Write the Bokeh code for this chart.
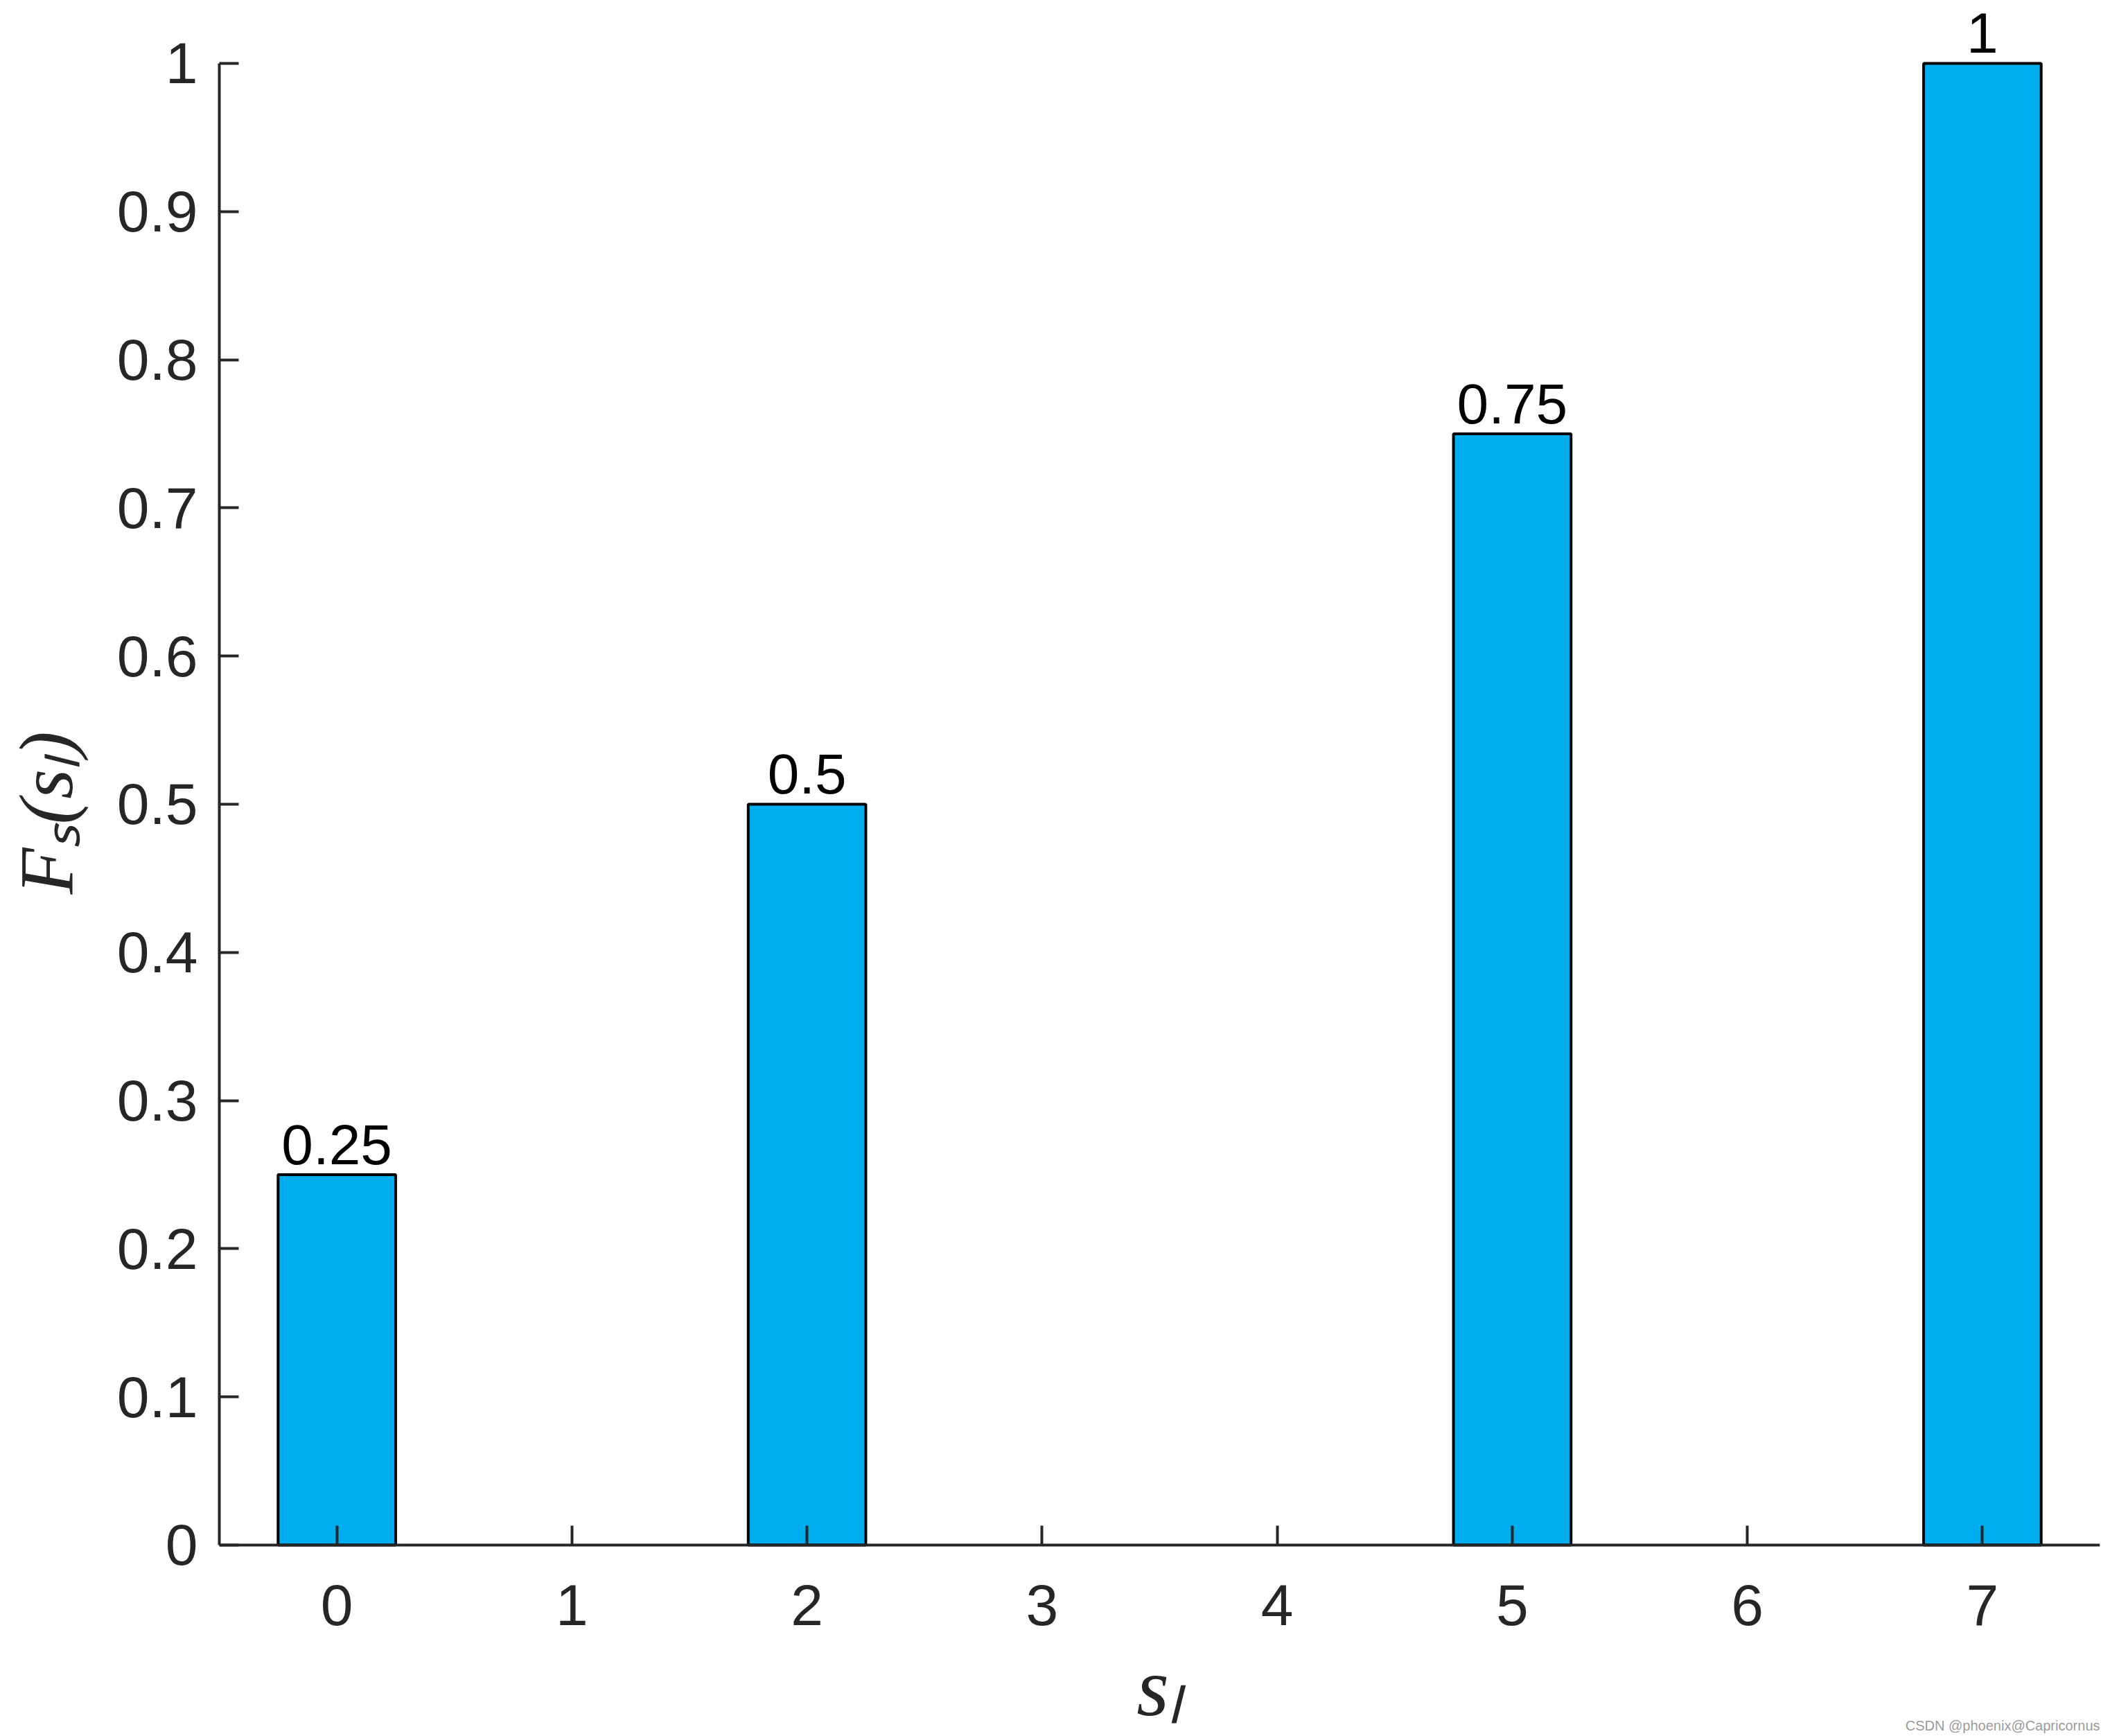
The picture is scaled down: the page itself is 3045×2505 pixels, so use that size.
from bokeh.plotting import figure
from bokeh.models import ColumnDataSource, LabelSet, Label, FixedTicker, Range1d
from bokeh.core.properties import value
from bokeh.embed import file_html
from bokeh.resources import INLINE

# ---- data ----
levels = [0, 2, 5, 7]
values = [0.25, 0.5, 0.75, 1.0]
value_labels = ["0.25", "0.5", "0.75", "1"]
x_ticks = [0, 1, 2, 3, 4, 5, 6, 7]
y_ticks = [0.0, 0.1, 0.2, 0.3, 0.4, 0.5, 0.6, 0.7, 0.8, 0.9, 1.0]
y_tick_labels = ["0", "0.1", "0.2", "0.3", "0.4", "0.5", "0.6", "0.7", "0.8", "0.9", "1"]
x_label = "s\u2097"
y_label = "F\u209b(s\u2097)"
watermark = "CSDN @phoenix@Capricornus"

src = ColumnDataSource(dict(x=levels, top=values, label=value_labels))

# frame covers the area below the x axis too, so nothing is clipped
p = figure(
    frame_width=2714, frame_height=2500,
    x_range=Range1d(-0.5, 7.5), y_range=Range1d(-0.12910, 1.04022),
    output_backend="svg", toolbar_location=None,
    min_border_left=316, min_border_right=15, min_border_top=5, min_border_bottom=0,
    background_fill_color="white", border_fill_color="white",
)
p.outline_line_color = None
p.xgrid.grid_line_color = None
p.ygrid.grid_line_color = None

p.vbar(x="x", top="top", bottom=0, width=0.5, source=src,
       fill_color="#00AEEF", line_color="black", line_width=4)

labels = LabelSet(x="x", y="top", text="label", source=src,
                  text_align="center", text_baseline="alphabetic", y_offset=15,
                  text_font=value("Liberation Sans"), text_font_size=value("82px"),
                  text_color=value("black"))
p.add_layout(labels)

AX = "#262626"
for ax in (p.xaxis[0], p.yaxis[0]):
    ax.axis_line_color = AX
    ax.axis_line_width = 4
    ax.major_tick_line_color = AX
    ax.major_tick_line_width = 4
    ax.major_tick_in = 28
    ax.major_tick_out = 0
    ax.minor_tick_line_color = None
    ax.major_label_text_font = "Liberation Sans"
    ax.major_label_text_font_size = "84px"
    ax.major_label_text_color = AX
    ax.axis_label_text_font = "Liberation Serif"
    ax.axis_label_text_font_style = "italic"
    ax.axis_label_text_color = AX

p.xaxis.axis_label_text_font_size = "120px"
p.yaxis.axis_label_text_font_size = "110px"

p.xaxis.fixed_location = 0
p.yaxis.bounds = (0, 1)
p.xaxis.ticker = FixedTicker(ticks=x_ticks)
p.yaxis.ticker = FixedTicker(ticks=y_ticks)
p.yaxis.major_label_overrides = {t: l for t, l in zip(y_ticks, y_tick_labels)}
p.xaxis.major_label_standoff = 58
p.yaxis.major_label_standoff = 31
p.xaxis.axis_label = x_label
# leading no-break spaces move the rotated label up to the middle of the 0..1 axis
p.yaxis.axis_label = "\u00a0" * 6 + y_label
p.xaxis.axis_label_standoff = 19
p.yaxis.axis_label_standoff = 38

wm = Label(x=7.5, y=-0.122, text=watermark,
           text_align="right", text_baseline="alphabetic",
           text_font="Liberation Sans", text_font_size="20px", text_color="#9a9a9a")
p.add_layout(wm)

open("out.html", "w").write(file_html(p, INLINE))
